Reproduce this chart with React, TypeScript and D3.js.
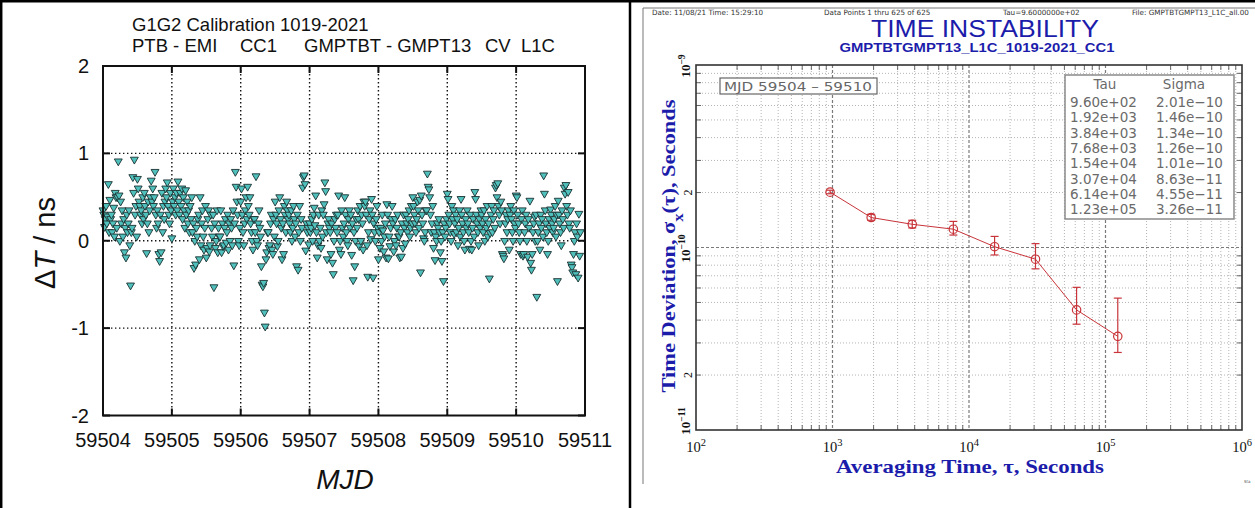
import React from 'react';
import * as d3 from 'd3';

// ---------- Left panel data (G1G2 calibration, ΔT in ns, sampled every 960 s) ----------
const TAU0_SEC = 960;
const MJD_START = 59504;
const DT_NS: number[] = [
  // 59504
  0.35, 0.30, 0.16, 0.25, 0.40, 0.20, 0.28, 0.65, 0.10,
  0.47, 0.25, 0.30, 0.10, 0.20, 0.38, 0.05, 0.55, 0.50,
  0.15, 0.50, 0.91, 0.52, 0.00, 0.45, 0.20, 0.35, 0.05,
  0.25, -0.13, 0.15, -0.19, 0.30, 0.10, 0.20, 0.35, -0.05,
  -0.51, 0.10, 0.15, 0.73, 0.55, 0.93, 0.30, 0.40, 0.05,
  0.71, 0.60, 0.45, 0.40, 0.30, 0.35, 0.20, 0.50, 0.25,
  0.55, 0.40, 0.30, -0.14, 0.20, 0.45, 0.10, 0.35, 0.50,
  0.69, 0.45, 0.60, 0.40, 0.50, 0.79, 0.30, 0.15, 0.35,
  0.20, -0.15, -0.23, 0.30, -0.13, 0.55, 0.10, 0.40, 0.25,
  0.45, 0.60, 0.50, 0.67, 0.40, 0.30, 0.20, 0.55, 0.35,
  // 59505
  0.03, 0.45, 0.60, 0.40, 0.50, 0.30, 0.55, 0.35, 0.68,
  0.45, 0.30, 0.55, 0.40, 0.60, 0.25, 0.50, 0.35, 0.15,
  0.58, 0.30, 0.45, 0.20, 0.35, 0.10, 0.40, 0.25, 0.50,
  0.10, 0.20, -0.31, 0.00, -0.27, 0.15, 0.05, 0.25, 0.30,
  -0.21, 0.50, -0.05, 0.20, 0.35, 0.05, -0.10, 0.15, 0.40,
  -0.19, -0.08, 0.25, 0.35, -0.12, -0.05, 0.30, 0.15, 0.05,
  0.30, -0.53, 0.20, -0.08, 0.00, 0.35, -0.13, 0.15, 0.05,
  0.05, 0.35, -0.13, 0.20, -0.06, -0.05, 0.15, 0.25, -0.02,
  0.10, 0.30, -0.10, 0.20, 0.00, 0.25, 0.15, -0.05, 0.35,
  -0.28, 0.20, 0.79, 0.62, 0.45, 0.30, 0.00, -0.05, 0.15,
  // 59506
  0.45, 0.60, 0.30, 0.10, -0.05, 0.20, 0.35, 0.50, 0.25,
  0.62, 0.40, 0.30, 0.50, 0.20, 0.10, 0.00, -0.10, 0.25,
  0.25, 0.10, 0.74, 0.00, -0.05, 0.20, 0.35, 0.15, 0.05,
  -0.29, -0.50, -0.52, -0.48, -0.82, -0.98, -0.21, -0.13, 0.10,
  0.10, -0.08, -0.05, 0.20, 0.30, -0.10, -0.15, 0.25, 0.05,
  0.45, 0.30, 0.20, -0.06, 0.00, 0.35, 0.50, 0.25, 0.15,
  -0.21, 0.20, -0.15, 0.40, 0.30, 0.10, 0.45, 0.35, 0.25,
  0.30, 0.20, 0.10, 0.35, 0.00, 0.15, 0.40, 0.25, 0.05,
  0.20, -0.29, 0.30, -0.33, 0.10, 0.40, 0.00, 0.25, 0.15,
  0.61, 0.73, 0.75, 0.65, -0.11, 0.20, 0.10, 0.15, -0.04,
  // 59507
  0.20, 0.10, 0.15, 0.25, 0.00, 0.30, 0.38, 0.18, 0.52,
  0.10, -0.19, -0.05, 0.30, 0.00, 0.15, -0.08, 0.35, 0.05,
  0.30, 0.42, 0.67, 0.57, 0.10, -0.21, 0.20, 0.25, 0.15,
  0.10, -0.15, 0.20, -0.25, -0.38, 0.00, 0.25, 0.15, 0.30,
  0.10, 0.30, 0.52, -0.10, 0.00, -0.15, 0.35, 0.15, 0.05,
  0.20, 0.50, 0.30, 0.10, 0.00, -0.05, 0.25, 0.35, 0.15,
  0.30, -0.16, 0.20, -0.45, 0.10, -0.29, 0.00, 0.25, 0.15,
  0.35, 0.25, -0.06, 0.40, 0.00, 0.30, 0.20, -0.10, 0.45,
  0.40, 0.45, 0.30, -0.05, -0.41, 0.10, 0.25, 0.35, 0.02,
  0.48, 0.30, -0.42, 0.20, 0.10, 0.00, 0.25, 0.40, 0.15,
  // 59508
  -0.21, 0.10, -0.08, 0.15, 0.00, 0.30, 0.12, -0.12, 0.05,
  0.20, -0.19, 0.42, 0.30, -0.20, 0.05, -0.06, 0.15, 0.25,
  0.40, 0.20, -0.12, 0.00, 0.25, -0.05, 0.15, 0.30, 0.05,
  0.05, -0.19, 0.10, -0.18, 0.20, -0.08, 0.30, 0.15, -0.03,
  0.30, 0.20, 0.10, 0.25, 0.35, 0.05, 0.15, 0.40, 0.20,
  0.50, 0.40, 0.30, 0.20, 0.10, 0.25, 0.45, 0.35, 0.15,
  0.47, -0.36, 0.52, 0.30, 0.20, 0.03, 0.00, 0.10, 0.35,
  0.35, 0.77, 0.62, 0.59, 0.50, 0.30, 0.10, 0.20, 0.40,
  -0.08, 0.10, -0.22, 0.05, 0.00, 0.20, 0.15, 0.25, 0.10,
  -0.13, 0.00, -0.23, 0.10, -0.46, 0.20, 0.05, 0.15, 0.25,
  // 59509
  0.54, 0.48, 0.30, 0.20, 0.10, 0.00, 0.40, 0.25, 0.35,
  0.08, 0.20, 0.30, 0.10, 0.25, -0.05, 0.15, 0.35, 0.05,
  0.48, 0.30, 0.20, 0.10, 0.00, -0.10, 0.25, 0.15, 0.35,
  0.20, 0.10, -0.09, 0.30, 0.00, -0.10, 0.15, 0.25, 0.05,
  0.56, 0.48, 0.30, 0.20, 0.10, -0.05, 0.25, 0.15, 0.35,
  0.30, 0.20, 0.10, 0.35, 0.00, 0.25, 0.15, 0.40, 0.05,
  0.20, -0.43, 0.09, 0.30, 0.40, 0.10, 0.25, 0.35, 0.15,
  0.61, 0.64, 0.50, 0.66, 0.40, 0.30, 0.20, 0.45, 0.35,
  -0.15, -0.17, -0.20, 0.00, 0.20, 0.30, 0.10, 0.25, 0.35,
  -0.10, 0.30, 0.40, 0.25, 0.10, 0.00, 0.35, 0.20, 0.15,
  // 59510
  0.52, 0.50, 0.30, 0.20, 0.10, 0.00, -0.15, 0.25, 0.35,
  -0.17, -0.15, 0.10, 0.20, 0.30, 0.00, -0.18, 0.25, 0.15,
  0.46, -0.25, -0.33, -0.15, 0.10, 0.20, 0.28, 0.00, 0.30,
  -0.64, 0.00, 0.10, 0.20, -0.10, 0.30, 0.15, 0.25, 0.05,
  0.75, 0.54, 0.35, 0.20, 0.10, -0.15, 0.00, 0.25, 0.15,
  0.36, 0.30, 0.20, 0.10, 0.15, 0.25, 0.40, 0.05, 0.30,
  -0.46, 0.46, 0.30, 0.20, 0.10, -0.05, 0.35, 0.25, 0.15,
  0.61, 0.54, 0.64, 0.40, 0.30, 0.56, 0.20, 0.15, 0.35,
  -0.27, -0.30, -0.36, -0.15, 0.00, 0.10, -0.38, 0.20, 0.05,
  -0.42, 0.31, -0.17, 0.10,
];
const MJD_TICKS = [59504, 59505, 59506, 59507, 59508, 59509, 59510, 59511];
const DT_TICKS = [-2, -1, 0, 1, 2];

// ---------- Right panel data (TDEV) ----------
const TAU = [960, 1920, 3840, 7680, 15400, 30700, 61400, 123000];
const SIGMA = [2.01e-10, 1.46e-10, 1.34e-10, 1.26e-10, 1.01e-10, 8.63e-11, 4.55e-11, 3.26e-11];
const SIGMA_LO = [1.97e-10, 1.41e-10, 1.28e-10, 1.17e-10, 0.91e-10, 7.64e-11, 3.8e-11, 2.66e-11];
const SIGMA_HI = [2.06e-10, 1.52e-10, 1.41e-10, 1.39e-10, 1.15e-10, 1.05e-10, 6.05e-11, 5.28e-11];
const TAU_LABELS = ['9.60e+02', '1.92e+03', '3.84e+03', '7.68e+03', '1.54e+04', '3.07e+04', '6.14e+04', '1.23e+05'];
const SIGMA_LABELS = ['2.01e\u221210', '1.46e\u221210', '1.34e\u221210', '1.26e\u221210', '1.01e\u221210', '8.63e\u221211', '4.55e\u221211', '3.26e\u221211'];
const TAU_DECADES = [2, 3, 4, 5, 6];
const SIGMA_DECADES = [-11, -10, -9];
const MINOR_MULT = [2, 3, 4, 5, 6, 7, 8, 9];

const SANS = '"Liberation Sans", Arial, sans-serif';
const SERIF = '"Liberation Serif", "Times New Roman", serif';
const DV = '"DejaVu Sans", sans-serif';
const BLUE = '#1c1cab';
const RED = '#c8343a';

function LeftPanel() {
  const x = d3.scaleLinear().domain([59504, 59511]).range([103, 585]);
  const y = d3.scaleLinear().domain([-2, 2]).range([415.5, 66]);
  const tri = d3.symbol().type(d3.symbolTriangle).size(27)() as string;
  const [x0, x1] = x.range();
  const [y0, y1] = y.range();
  return (
    <g>
      <text x={132} y={31} fontFamily={SANS} fontSize={18.5} fill="#111">G1G2 Calibration 1019-2021</text>
      <g fontFamily={SANS} fontSize={18.5} fill="#111">
        <text x={132} y={52}>PTB - EMI</text>
        <text x={240} y={52}>CC1</text>
        <text x={304} y={52}>GMPTBT - GMPT13</text>
        <text x={485} y={52}>CV</text>
        <text x={521} y={52}>L1C</text>
      </g>
      {/* grid */}
      {MJD_TICKS.slice(1, -1).map((t) => (
        <line key={'gx' + t} x1={x(t)} x2={x(t)} y1={y1} y2={y0} stroke="#111" strokeWidth={1.4} strokeDasharray="1.4,2.6" />
      ))}
      {DT_TICKS.slice(1, -1).map((t) => (
        <line key={'gy' + t} x1={x0} x2={x1} y1={y(t)} y2={y(t)} stroke="#111" strokeWidth={1.4} strokeDasharray="1.4,2.6" />
      ))}
      {/* ticks */}
      {DT_TICKS.map((t) => (
        <g key={'ty' + t}>
          <line x1={x0} x2={x0 + 7} y1={y(t)} y2={y(t)} stroke="#111" strokeWidth={2} />
          <line x1={x1 - 7} x2={x1} y1={y(t)} y2={y(t)} stroke="#111" strokeWidth={2} />
        </g>
      ))}
      {MJD_TICKS.map((t) => (
        <g key={'tx' + t}>
          <line x1={x(t)} x2={x(t)} y1={y0} y2={y0 - 7} stroke="#111" strokeWidth={2} />
          <line x1={x(t)} x2={x(t)} y1={y1} y2={y1 + 7} stroke="#111" strokeWidth={2} />
        </g>
      ))}
      {/* points */}
      {DT_NS.map((v, i) => {
        const mjd = MJD_START + (i * TAU0_SEC) / 86400;
        return (
          <path key={i} d={tri} transform={`translate(${x(mjd)},${y(v)}) rotate(180)`} fill="#4fc0bc" stroke="#1a3030" strokeWidth={0.9} />
        );
      })}
      <rect x={x0} y={y1} width={x1 - x0} height={y0 - y1} fill="none" stroke="#111" strokeWidth={2} />
      {/* tick labels */}
      {DT_TICKS.map((t) => (
        <text key={'ly' + t} x={89} y={y(t) + 7} textAnchor="end" fontFamily={SANS} fontSize={20} fill="#111">{t}</text>
      ))}
      {MJD_TICKS.map((t) => (
        <text key={'lx' + t} x={x(t)} y={447} textAnchor="middle" fontFamily={SANS} fontSize={20} fill="#111">{t}</text>
      ))}
      <text transform="translate(55,243) rotate(-90)" textAnchor="middle" fontFamily={SANS} fontSize={29} fill="#111">
        Δ<tspan fontStyle="italic">T</tspan> / ns
      </text>
      <text x={345} y={489} textAnchor="middle" fontFamily={SANS} fontSize={28} fontStyle="italic" fill="#111">MJD</text>
    </g>
  );
}

function RightPanel() {
  const x = d3.scaleLog().domain([1e2, 1e6]).range([696, 1242]);
  const y = d3.scaleLog().domain([1e-11, 1e-9]).range([430, 65]);
  const [x0, x1] = x.range();
  const [y0, y1] = y.range();
  const minorX: number[] = [];
  TAU_DECADES.slice(0, -1).forEach((d) => MINOR_MULT.forEach((m) => minorX.push(m * Math.pow(10, d))));
  const minorY: number[] = [];
  SIGMA_DECADES.slice(0, -1).forEach((d) => MINOR_MULT.forEach((m) => minorY.push(m * Math.pow(10, d))));
  const majorX = TAU_DECADES.slice(1, -1).map((d) => Math.pow(10, d));
  const majorY = SIGMA_DECADES.slice(1, -1).map((d) => Math.pow(10, d));
  const line = d3.line<number>().x((_, i) => x(TAU[i])).y((s) => y(s));
  const rowY = d3.range(TAU.length).map((i) => 107 + i * 15.3);
  return (
    <g>
      {/* image border */}
      <line x1={643} x2={643} y1={8} y2={484} stroke="#777" strokeWidth={1} />
      <line x1={643} x2={1255} y1={8} y2={8} stroke="#777" strokeWidth={1} />
      {/* header */}
      <g fontFamily={DV} fontSize={7.2} fill="#333">
        <text x={652} y={15}>Date: 11/08/21   Time: 15:29:10</text>
        <text x={824} y={15}>Data Points 1 thru 625 of 625</text>
        <text x={1003} y={15}>Tau=9.6000000e+02</text>
        <text x={1132} y={15}>File: GMPTBTGMPT13_L1C_all.00</text>
      </g>
      <text x={985} y={37} textAnchor="middle" fontFamily={SANS} fontSize={24.5} fill={BLUE} textLength={228} lengthAdjust="spacingAndGlyphs">TIME INSTABILITY</text>
      <text x={977} y={52} textAnchor="middle" fontFamily={SANS} fontSize={13} fontWeight="bold" fill={BLUE} textLength={275} lengthAdjust="spacingAndGlyphs">GMPTBTGMPT13_L1C_1019-2021_CC1</text>
      {/* grid */}
      {minorX.map((t) => (
        <line key={'mx' + t} x1={x(t)} x2={x(t)} y1={y1} y2={y0} stroke="#b4b4b4" strokeWidth={1} strokeDasharray="1,2" />
      ))}
      {minorY.map((t) => (
        <line key={'my' + t} x1={x0} x2={x1} y1={y(t)} y2={y(t)} stroke="#b4b4b4" strokeWidth={1} strokeDasharray="1,2" />
      ))}
      {majorX.map((t) => (
        <line key={'Mx' + t} x1={x(t)} x2={x(t)} y1={y1} y2={y0} stroke="#7a7a7a" strokeWidth={1.2} strokeDasharray="3,2" />
      ))}
      {majorY.map((t) => (
        <line key={'My' + t} x1={x0} x2={x1} y1={y(t)} y2={y(t)} stroke="#7a7a7a" strokeWidth={1.2} strokeDasharray="3,2" />
      ))}
      {/* ticks */}
      {minorX.map((t) => (
        <g key={'tx' + t}>
          <line x1={x(t)} x2={x(t)} y1={y1} y2={y1 + 5} stroke="#666" />
          <line x1={x(t)} x2={x(t)} y1={y0} y2={y0 - 5} stroke="#666" />
        </g>
      ))}
      {minorY.map((t) => (
        <g key={'ty' + t}>
          <line x1={x0} x2={x0 + 5} y1={y(t)} y2={y(t)} stroke="#666" />
          <line x1={x1} x2={x1 - 5} y1={y(t)} y2={y(t)} stroke="#666" />
        </g>
      ))}
      {/* MJD box */}
      <rect x={720} y={78} width={157} height={16} fill="#fff" stroke="#666" strokeWidth={1.2} />
      <text x={724} y={91} fontFamily={DV} fontSize={13} fill="#666" textLength={148} lengthAdjust="spacingAndGlyphs">MJD 59504 – 59510</text>
      {/* table box */}
      <rect x={1065} y={75} width={169} height={144} fill="#fff" stroke="#8a8a8a" strokeWidth={1.5} />
      <g fontFamily={DV} fontSize={13.5} fill="#6a6a6a">
        <text x={1105} y={89} textAnchor="middle">Tau</text>
        <text x={1184} y={89} textAnchor="middle">Sigma</text>
        {TAU_LABELS.map((t, i) => (
          <text key={'tl' + i} x={1070} y={rowY[i]}>{t}</text>
        ))}
        {SIGMA_LABELS.map((t, i) => (
          <text key={'sl' + i} x={1156} y={rowY[i]}>{t}</text>
        ))}
      </g>
      {/* data */}
      <path d={line(SIGMA) as string} fill="none" stroke={RED} strokeWidth={1} />
      {TAU.map((t, i) => (
        <g key={'e' + i} stroke={RED} strokeWidth={1.2} fill="none">
          <line x1={x(t)} x2={x(t)} y1={y(SIGMA_LO[i])} y2={y(SIGMA_HI[i])} />
          <line x1={x(t) - 4} x2={x(t) + 4} y1={y(SIGMA_LO[i])} y2={y(SIGMA_LO[i])} />
          <line x1={x(t) - 4} x2={x(t) + 4} y1={y(SIGMA_HI[i])} y2={y(SIGMA_HI[i])} />
          <circle cx={x(t)} cy={y(SIGMA[i])} r={4.2} fill="none" />
        </g>
      ))}
      <rect x={x0} y={y1} width={x1 - x0} height={y0 - y1} fill="none" stroke="#333" strokeWidth={1.6} />
      {/* x tick labels */}
      {TAU_DECADES.map((d) => (
        <text key={'xl' + d} x={x(Math.pow(10, d))} y={452} textAnchor="middle" fontFamily={SERIF} fontSize={14.5} fill="#111">
          10<tspan dy={-6} fontSize={10.5}>{d}</tspan>
        </text>
      ))}
      {/* y tick labels */}
      {SIGMA_DECADES.map((d) => {
        const yy = d === -11 ? y(Math.pow(10, d)) - 9 : y(Math.pow(10, d)) + 1;
        return (
          <text key={'yl' + d} transform={`translate(690,${yy}) rotate(-90)`} textAnchor="middle" fontFamily={SERIF} fontSize={13} fontWeight="bold" fill="#111">
            10<tspan dy={-5} fontSize={9.5}>{'\u2212' + Math.abs(d)}</tspan>
          </text>
        );
      })}
      {SIGMA_DECADES.slice(0, -1).map((d) => (
        <text key={'y2' + d} transform={`translate(692,${y(2 * Math.pow(10, d))}) rotate(-90)`} textAnchor="middle" fontFamily={SERIF} fontSize={12} fill="#111">2</text>
      ))}
      {/* axis titles */}
      <text transform="translate(675,246) rotate(-90)" textAnchor="middle" fontFamily={SERIF} fontSize={19} fontWeight="bold" fill={BLUE} textLength={293} lengthAdjust="spacingAndGlyphs">
        Time Deviation, σ<tspan baselineShift="sub" fontSize={14}>x</tspan>(τ), Seconds
      </text>
      <text x={970} y={473} textAnchor="middle" fontFamily={SERIF} fontSize={19} fontWeight="bold" fill={BLUE} textLength={268} lengthAdjust="spacingAndGlyphs">
        Averaging Time, τ, Seconds
      </text>
      <text x={1244} y={483} fontFamily={DV} fontSize={4} fill="#555">Sta</text>
    </g>
  );
}

export default function App() {
  return (
    <svg width={1255} height={508} viewBox="0 0 1255 508" style={{ position: 'fixed', left: 0, top: 0, background: '#fff' }}>
      <rect x={0} y={0} width={1255} height={508} fill="#fff" />
      <LeftPanel />
      <RightPanel />
      <line x1={0} x2={1255} y1={1.2} y2={1.2} stroke="#000" strokeWidth={2.5} />
      <line x1={1.2} x2={1.2} y1={0} y2={508} stroke="#000" strokeWidth={2.5} />
      <line x1={630} x2={630} y1={0} y2={508} stroke="#000" strokeWidth={2.5} />
    </svg>
  );
}
